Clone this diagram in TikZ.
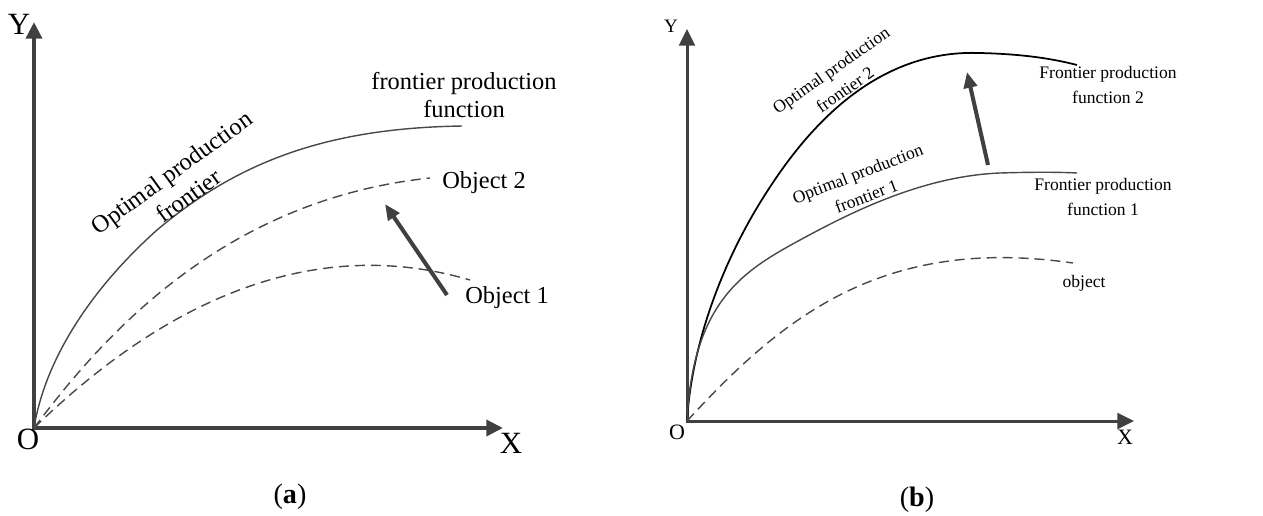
\documentclass[tikz,border=0pt]{standalone}
\usepackage{fontspec}
\setmainfont{Liberation Serif}
\usetikzlibrary{arrows.meta}

\definecolor{axisgray}{RGB}{64,64,64}
\definecolor{curvegray}{RGB}{72,72,72}

\begin{document}
\begin{tikzpicture}[
    x=0.02cm, y=-0.02cm,
    axes/.style={line width=2.3pt, draw=axisgray, line join=miter,
      {Triangle[length=9.5pt, width=9pt, fill=axisgray]}-{Triangle[length=9.5pt, width=9pt, fill=axisgray]}},
    axesb/.style={axes, line width=1.7pt},
    curve/.style={draw=curvegray, line width=0.8pt},
    dcurve/.style={curve, dash pattern=on 5.7pt off 3.4pt},
    growth/.style={draw=axisgray, line width=2.3pt, -{Triangle[length=9pt, width=7.5pt, fill=axisgray]}},
    txta/.style={font=\fontsize{13.9}{16.4}\selectfont, align=center, inner sep=0pt},
    txtb/.style={font=\fontsize{10}{13.7}\selectfont, align=center, inner sep=0pt},
    axlbla/.style={font=\fontsize{17.6}{20}\selectfont, inner sep=0pt},
    axlblb/.style={font=\fontsize{12.5}{14}\selectfont, inner sep=0pt},
    caption/.style={font=\fontsize{16}{18}\selectfont, inner sep=0pt}
  ]
  \useasboundingbox (0,0) rectangle (1263,515);

  % (a) one frontier, two objects
  \coordinate (Oa) at (34,428);
  \coordinate (Ya) at (34,22);
  \coordinate (Xa) at (503,428);
  \coordinate (Fa) at (462,126);
  \coordinate (Ob2) at (430,178);
  \coordinate (Ob1) at (470,280);
  \coordinate (Ga1) at (447,295);
  \coordinate (Ga2) at (385,204);

  \draw[axes] (Ya) -- (Oa) -- (Xa);
  \node[axlbla] (ya) at (19,24) {Y};
  \node[axlbla] (oa) at (28,439) {O};
  \node[axlbla] (xa) at (511,443) {X};

  \draw[curve] (Oa) .. controls (45,360) and (90,290) .. (157,230)
    .. controls (240,160) and (330,128) .. (Fa);
  \draw[dcurve] (Oa) .. controls (100,340) and (220,200) .. (Ob2);
  \draw[dcurve] (Oa) .. controls (150,315) and (300,230) .. (Ob1);
  \draw[growth] (Ga1) -- (Ga2);

  \node[txta, rotate=36] (opta) at (180,184) {Optimal production\\frontier};
  \node[txta] (fpfa) at (464,95) {frontier production\\function};
  \node[txta] (obja2) at (484,183) {Object 2};
  \node[txta] (obja1) at (507,298) {Object 1};
  \node[caption] (capa) at (290,497) {(\textbf{a})};

  % (b) frontier moves up
  \coordinate (Ob) at (687,421);
  \coordinate (Yb) at (687,29);
  \coordinate (Xb) at (1134,421);
  \coordinate (Fb2) at (1077,65);
  \coordinate (Fb1) at (1077,173);
  \coordinate (Obb) at (1073,263);
  \coordinate (Gb1) at (988,165);
  \coordinate (Gb2) at (967,72);

  \draw[axesb] (Yb) -- (Ob) -- (Xb);
  \node[axlblb, font=\fontsize{10.8}{12}\selectfont] (yb) at (671,26) {Y};
  \node[axlblb] (ob) at (677,432) {O};
  \node[axlblb] (xb) at (1125,437) {X};

  \draw[line width=1pt] (Ob) .. controls (692,340) and (725,255) .. (770,187)
    .. controls (830,95) and (900,50) .. (980,53)
    .. controls (1020,54) and (1050,58) .. (Fb2);
  \draw[curve] (Ob) .. controls (693,300) and (745,270) .. (800,240)
    .. controls (855,210) and (925,176) .. (1000,173)
    .. controls (1030,172) and (1060,172) .. (Fb1);
  \draw[dcurve] (Ob) .. controls (780,320) and (880,235) .. (Obb);
  \draw[growth] (Gb1) -- (Gb2);

  \node[txtb, rotate=35] (optb2) at (838,80) {Optimal production\\frontier 2};
  \node[txtb, rotate=21] (optb1) at (862,185) {Optimal production\\frontier 1};
  \node[txtb] (fpfb2) at (1108,85) {Frontier production\\function 2};
  \node[txtb] (fpfb1) at (1103,197) {Frontier production\\function 1};
  \node[txtb] (objb) at (1084,283) {object};
  \node[caption] (capb) at (917,500) {(\textbf{b})};
\end{tikzpicture}
\end{document}
